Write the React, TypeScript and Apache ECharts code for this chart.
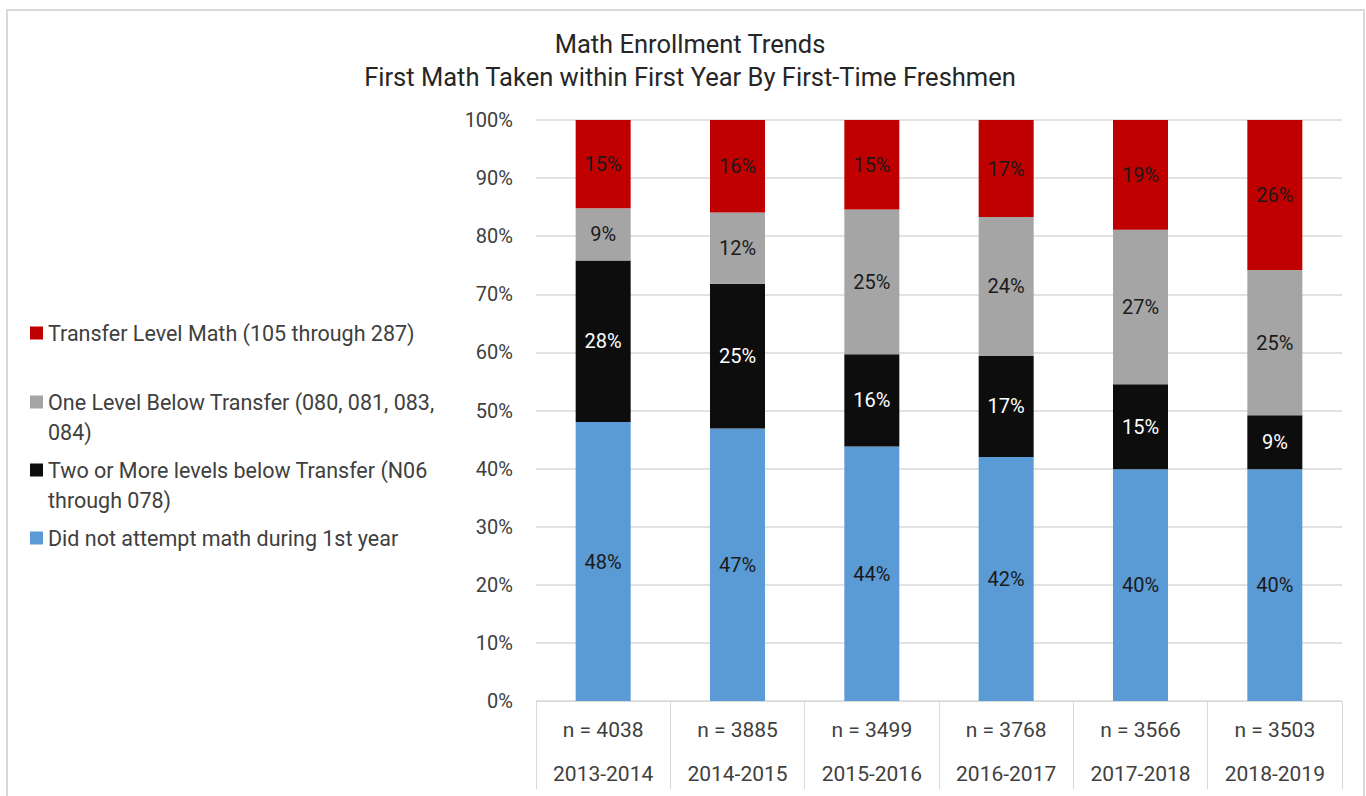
import React, { useEffect, useRef } from "react";
import * as echarts from "echarts";

const years = ["2013-2014", "2014-2015", "2015-2016", "2016-2017", "2017-2018", "2018-2019"];
const nCounts = [4038, 3885, 3499, 3768, 3566, 3503];
const didNotAttempt = [48.0, 46.9, 43.8, 42.0, 39.9, 39.9];
const twoOrMoreBelow = [27.8, 24.9, 15.9, 17.4, 14.6, 9.3];
const oneLevelBelow = [9.0, 12.3, 24.9, 23.9, 26.6, 25.0];
const transferLevel = [15.2, 15.9, 15.4, 16.7, 18.9, 25.8];
const yTicks = [0, 10, 20, 30, 40, 50, 60, 70, 80, 90, 100];

const names = {
  transfer: "Transfer Level Math (105 through 287)",
  one: "One Level Below Transfer (080, 081, 083, 084)",
  two: "Two or More levels below Transfer (N06 through 078)",
  none: "Did not attempt math during 1st year",
};
const legendText: Record<string, string> = {
  [names.transfer]: "Transfer Level Math (105 through 287)",
  [names.one]: "\nOne Level Below Transfer (080, 081, 083,\n084)",
  [names.two]: "\nTwo or More levels below Transfer (N06\nthrough 078)",
  [names.none]: "Did not attempt math during 1st year",
};

const FONT = "Roboto";
const TEXT = "#404040";

export default function App() {
  const ref = useRef<HTMLDivElement>(null);
  useEffect(() => {
    if (!ref.current) return;
    const chart = echarts.init(ref.current, undefined, { renderer: "svg" });
    const labelStyle = (color: string) => ({
      show: true,
      position: "inside",
      fontFamily: FONT,
      fontSize: 20,
      color,
      formatter: (p: any) => Math.round(p.value) + "%",
    });
    const mkLegend = (name: string, top: number) => ({
      data: [name],
      left: 30,
      top,
      orient: "vertical",
      padding: 0,
      icon: "rect",
      itemWidth: 13,
      itemHeight: 13,
      selectedMode: false,
      formatter: (n: string) => legendText[n],
      textStyle: { fontFamily: FONT, fontSize: 21.5, lineHeight: 30, color: TEXT },
    });
    chart.setOption({
      animation: false,
      textStyle: { fontFamily: FONT },
      title: {
        text: "Math Enrollment Trends\nFirst Math Taken within First Year By First-Time Freshmen",
        left: 685,
        top: 22,
        textAlign: "center",
        textStyle: { fontFamily: FONT, fontSize: 25.5, fontWeight: "normal", lineHeight: 33, color: "#262626" },
      },
      graphic: [
        {
          type: "rect",
          silent: true,
          z: -10,
          shape: { x: 7, y: 10, width: 1357, height: 800 },
          style: { fill: "none", stroke: "#d9d9d9", lineWidth: 2 },
        },
      ],
      legend: [
        mkLegend(names.transfer, 318),
        mkLegend(names.one, 357),
        mkLegend(names.two, 425),
        mkLegend(names.none, 523),
      ],
      grid: { left: 536, width: 806, top: 120, height: 586, containLabel: false },
      xAxis: {
        type: "category",
        data: years,
        axisLine: { show: true, lineStyle: { color: "#d9d9d9", width: 1 } },
        axisTick: { show: true, length: 88, interval: 0, lineStyle: { color: "#d9d9d9", width: 1 } },
        axisLabel: {
          interval: 0,
          margin: 7,
          fontFamily: FONT,
          fontSize: 21,
          lineHeight: 44,
          color: TEXT,
          formatter: (v: string, i: number) => `n = ${nCounts[i]}\n${v}`,
        },
      },
      yAxis: {
        type: "value",
        min: yTicks[0],
        max: yTicks[yTicks.length - 1],
        interval: 10,
        axisLine: { show: false },
        axisTick: { show: false },
        splitLine: { lineStyle: { color: "#d9d9d9", width: 1.5 } },
        axisLabel: { margin: 23, fontFamily: FONT, fontSize: 20, color: TEXT, formatter: "{value}%" },
      },
      series: [
        { name: names.none, type: "bar", stack: "s", barWidth: 55, data: didNotAttempt, itemStyle: { color: "#5B9BD5" }, label: labelStyle("#1a1a1a") },
        { name: names.two, type: "bar", stack: "s", barWidth: 55, data: twoOrMoreBelow, itemStyle: { color: "#0D0D0D" }, label: labelStyle("#ffffff") },
        { name: names.one, type: "bar", stack: "s", barWidth: 55, data: oneLevelBelow, itemStyle: { color: "#A5A5A5" }, label: labelStyle("#1a1a1a") },
        { name: names.transfer, type: "bar", stack: "s", barWidth: 55, data: transferLevel, itemStyle: { color: "#C00000" }, label: labelStyle("#1a1a1a") },
      ],
    });
    return () => chart.dispose();
  }, []);
  return (
    <div
      ref={ref}
      style={{ position: "fixed", left: 0, top: 0, width: 1366, height: 796, background: "#fff" }}
    />
  );
}
